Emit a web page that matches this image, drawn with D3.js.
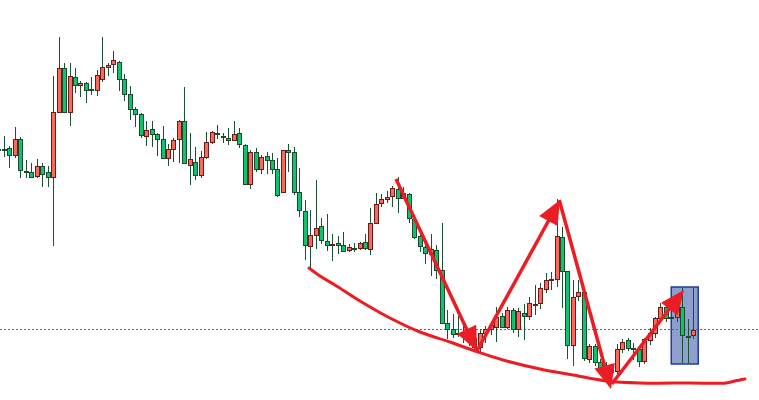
<!DOCTYPE html>
<html><head><meta charset="utf-8">
<script src="https://cdn.jsdelivr.net/npm/d3@7"></script>
<style>html,body{margin:0;padding:0;background:#fff;overflow:hidden}</style>
</head><body>
<svg id="chart" width="759" height="400"></svg>
<script>
// ---- candle data (bar index 0..127) ----
const opens = [1.1051,1.1051,1.1052,1.1045,1.1061,1.1029,1.1028,1.1024,1.1034,1.1028,
1.1023,1.1088,1.1132,1.1088,1.1123,1.1115,1.1117,1.1111,1.1110,1.1121,
1.1133,1.1136,1.1138,1.1121,1.1106,1.1091,1.1086,1.1064,1.1071,1.1066,
1.1061,1.1042,1.1051,1.1061,1.1079,1.1035,1.1038,1.1025,1.1043,1.1058,
1.1067,1.1064,1.1062,1.1060,1.1067,1.1055,1.1016,1.1048,1.1031,1.1044,
1.1040,1.1031,1.1008,1.1050,1.1048,1.1008,1.0989,1.0954,1.0965,1.0974,
1.0959,1.09559,1.0957,1.0955,1.0950,1.0952,1.0952,1.0958,1.0951,1.0977,
1.0997,1.1001,1.1004,1.1011,1.1002,1.1006,1.0981,1.0964,1.0953,1.0946,
1.0950,1.0930,1.0877,1.0871,1.08669,1.0868,1.0866,1.0853,1.0853,1.0867,
1.0871,1.0873,1.0884,1.0873,1.0890,1.0871,1.0887,1.0884,1.08959,1.0897,
1.0911,1.09209,1.0921,1.0963,1.0929,1.0855,1.0904,1.0908,1.0841,1.0854,
1.0838,1.0830,1.0831,1.0829,1.0851,1.0860,1.0852,1.0851,1.0839,1.0860,
1.0867,1.0882,1.0893,1.0883,1.0883,1.0893,1.0864,1.0865];
const highs = [1.1064,1.1064,1.1054,1.1073,1.1063,1.1040,1.1037,1.1041,1.1037,1.1034,
1.1124,1.1163,1.1137,1.1137,1.1132,1.1119,1.1118,1.1123,1.1130,1.1163,
1.1137,1.1149,1.1139,1.1126,1.1114,1.1093,1.1087,1.1079,1.1079,1.1067,
1.1074,1.1056,1.1062,1.1080,1.1113,1.1067,1.1053,1.1049,1.1068,1.1069,
1.1075,1.1067,1.1072,1.1079,1.1072,1.1056,1.1050,1.1052,1.1045,1.1048,
1.1047,1.1042,1.1050,1.1056,1.1053,1.1032,1.1000,1.0990,1.1020,1.0982,
1.0986,1.0966,1.0964,1.0968,1.0956,1.0957,1.0958,1.0966,1.0992,1.1007,
1.1006,1.1009,1.1014,1.1023,1.1013,1.1007,1.0981,1.0966,1.0961,1.0966,
1.0955,1.0977,1.0890,1.0886,1.0884,1.0874,1.0870,1.0866,1.0870,1.0874,
1.0878,1.0893,1.0887,1.0893,1.0892,1.0892,1.0896,1.0903,1.0915,1.0917,
1.0927,1.0928,1.1001,1.0973,1.0929,1.0920,1.0920,1.0910,1.0856,1.0856,
1.0841,1.0838,1.0834,1.0856,1.0861,1.0862,1.0857,1.0852,1.0862,1.0872,
1.0883,1.0897,1.0897,1.0897,1.0897,1.0913,1.0881,1.0913];
const lows = [1.1043,1.1043,1.1032,1.1042,1.1022,1.1022,1.1022,1.1022,1.1013,1.1013,
1.0954,1.1087,1.1087,1.1074,1.1107,1.1103,1.1097,1.1105,1.1104,1.1118,
1.1124,1.1127,1.1109,1.1099,1.1080,1.1073,1.1062,1.1054,1.1053,1.1044,
1.1042,1.1034,1.1038,1.1037,1.1036,1.1015,1.1020,1.1022,1.1041,1.1056,
1.1061,1.1057,1.1055,1.1060,1.1052,1.1016,1.1011,1.1028,1.1026,1.1026,
1.1026,1.1003,1.1007,1.1028,1.1005,1.0983,1.0940,1.0932,1.0951,1.0956,
1.0949,1.0939,1.0946,1.0948,1.0948,1.0948,1.0950,1.0950,1.0945,1.0976,
1.0993,1.0997,1.0993,1.0987,1.1001,1.0977,1.0961,1.0948,1.0936,1.0924,
1.0921,1.0877,1.0861,1.0862,1.0863,1.0857,1.0854,1.0848,1.0848,1.0857,
1.0865,1.0858,1.0873,1.0871,1.0867,1.0863,1.0860,1.0880,1.0885,1.0891,
1.0907,1.0910,1.0913,1.0892,1.0841,1.0834,1.0899,1.0839,1.0837,1.0834,
1.0825,1.0824,1.0825,1.0826,1.0847,1.0849,1.0840,1.0833,1.0836,1.0855,
1.0862,1.0879,1.0878,1.0878,1.0878,1.0837,1.0837,1.0861];
const closes = [1.1051,1.1051,1.1045,1.1061,1.1030,1.1029,1.1023,1.1034,1.1026,1.1023,
1.1088,1.1132,1.1088,1.1124,1.1115,1.1117,1.1110,1.1111,1.1125,1.1133,
1.1135,1.1140,1.1121,1.1106,1.1091,1.1086,1.1065,1.1070,1.1066,1.1061,
1.1042,1.1051,1.1060,1.1079,1.1037,1.1041,1.1025,1.1043,1.1058,1.1068,
1.1067,1.1064,1.1060,1.1066,1.1056,1.1016,1.1048,1.1031,1.1043,1.1040,
1.1031,1.1005,1.1050,1.1048,1.1008,1.0990,1.0955,1.0965,1.0972,1.0960,
1.0955,1.0956,1.0955,1.0949,1.0953,1.0952,1.0957,1.0952,1.0977,1.0996,
1.1001,1.1003,1.1012,1.1002,1.1007,1.0982,1.0963,1.0954,1.0947,1.0951,
1.0930,1.0877,1.0871,1.0866,1.0867,1.0865,1.0862,1.0862,1.0867,1.0871,
1.0875,1.0883,1.0873,1.0890,1.0871,1.0889,1.0884,1.0897,1.0896,1.0912,
1.0920,1.0921,1.0964,1.0929,1.0855,1.0903,1.0908,1.0842,1.0854,1.0838,
1.0828,1.0834,1.0828,1.0851,1.0858,1.0852,1.0852,1.0839,1.0861,1.0867,
1.0882,1.0893,1.0882,1.0883,1.0893,1.0865,1.0864,1.0870];
const bars = d3.range(opens.length);

// ---- annotations (bar index / price) ----
const levelPrice = 1.0871;
const boxIndex = [122.97, 127.9];
const boxPrice = [1.0913, 1.0836];
const curveIndex = [56.76,58.77,61.51,66.08,71.56,77.05,82.53,87.10,92.22,98.98,105.01,111.22,117.25,126.39,133.0,134.6,136.44];
const curvePrice = [1.0932,1.0924,1.0915,1.0899,1.0882,1.0868,1.0858,1.0849,1.0840,1.0831,1.0825,1.0819,1.0817,1.0817,1.0817,1.0819,1.0821];
const arrowFromIndex = [72.66, 87.46, 102.5, 112.1];
const arrowFromPrice = [1.1021, 1.0849, 1.1000, 1.0816];
const arrowToIndex = [87.46, 102.63, 111.95, 125.29];
const arrowToPrice = [1.0849, 1.1000, 1.0811, 1.0910];

const W = 759, H = 400;
const svg = d3.select('#chart');
const x = d3.scaleLinear().domain([0, bars.length - 1]).range([-1.6, 693.3]);
const y = d3.scaleLinear().domain([1.12, 1.08]).range([0, H]);

const RED = '#f96a5c', RED_B = '#6a1b1b', GRN = '#0cc46f', GRN_B = '#1a4a2b', WICK = '#1d4f33';
const ANN = '#ec1c24';

// box
svg.append('rect')
  .attr('x', x(boxIndex[0])).attr('y', y(boxPrice[0]))
  .attr('width', x(boxIndex[1]) - x(boxIndex[0]))
  .attr('height', y(boxPrice[1]) - y(boxPrice[0]))
  .attr('fill', '#8e9ecf').attr('stroke', '#1f3d99').attr('stroke-width', 1.5);

// level
const ly = Math.round(y(levelPrice)) + 0.5;
svg.append('line').attr('x1', 0).attr('x2', W).attr('y1', ly).attr('y2', ly)
  .attr('stroke', '#4262c9').attr('stroke-width', 1).attr('stroke-dasharray', '2,2');

// candles
const g = svg.append('g');
bars.forEach(i => {
  const o = opens[i], c = closes[i], h = highs[i], l = lows[i];
  const cx = Math.round(x(i));
  const up = c > o;
  g.append('line').attr('x1', cx + 0.5).attr('x2', cx + 0.5)
    .attr('y1', Math.round(y(h))).attr('y2', Math.round(y(l)))
    .attr('stroke', WICK).attr('stroke-width', 1);
  const top = Math.round(y(Math.max(o, c))) + 0.5;
  const bot = Math.round(y(Math.min(o, c))) + 0.5;
  g.append('rect').attr('x', cx - 1.5).attr('width', 4)
    .attr('y', top).attr('height', Math.max(1, bot - top))
    .attr('fill', up ? RED : GRN).attr('stroke', up ? RED_B : GRN_B).attr('stroke-width', 1);
});

// curve
const pts = curveIndex.map((d, k) => [x(d), y(curvePrice[k])]);
svg.append('path').attr('d', d3.line().curve(d3.curveCatmullRom)(pts))
  .attr('fill', 'none').attr('stroke', ANN).attr('stroke-width', 3)
  .attr('stroke-linecap', 'round').attr('stroke-linejoin', 'round');

// arrows
arrowFromIndex.forEach((d, k) => {
  const x0 = x(d), y0 = y(arrowFromPrice[k]);
  const x1 = x(arrowToIndex[k]), y1 = y(arrowToPrice[k]);
  const len = Math.hypot(x1 - x0, y1 - y0);
  const ux = (x1 - x0) / len, uy = (y1 - y0) / len;
  const nx = -uy, ny = ux;
  const hl = 24, hw = 10.5;
  svg.append('line').attr('x1', x0).attr('y1', y0)
    .attr('x2', x1 - ux * 12).attr('y2', y1 - uy * 12)
    .attr('stroke', ANN).attr('stroke-width', 3.5);
  const bx = x1 - ux * hl, by = y1 - uy * hl;
  svg.append('path')
    .attr('d', `M${x1},${y1}L${bx + nx * hw},${by + ny * hw}L${bx - nx * hw},${by - ny * hw}Z`)
    .attr('fill', ANN);
});
</script>
</body></html>
